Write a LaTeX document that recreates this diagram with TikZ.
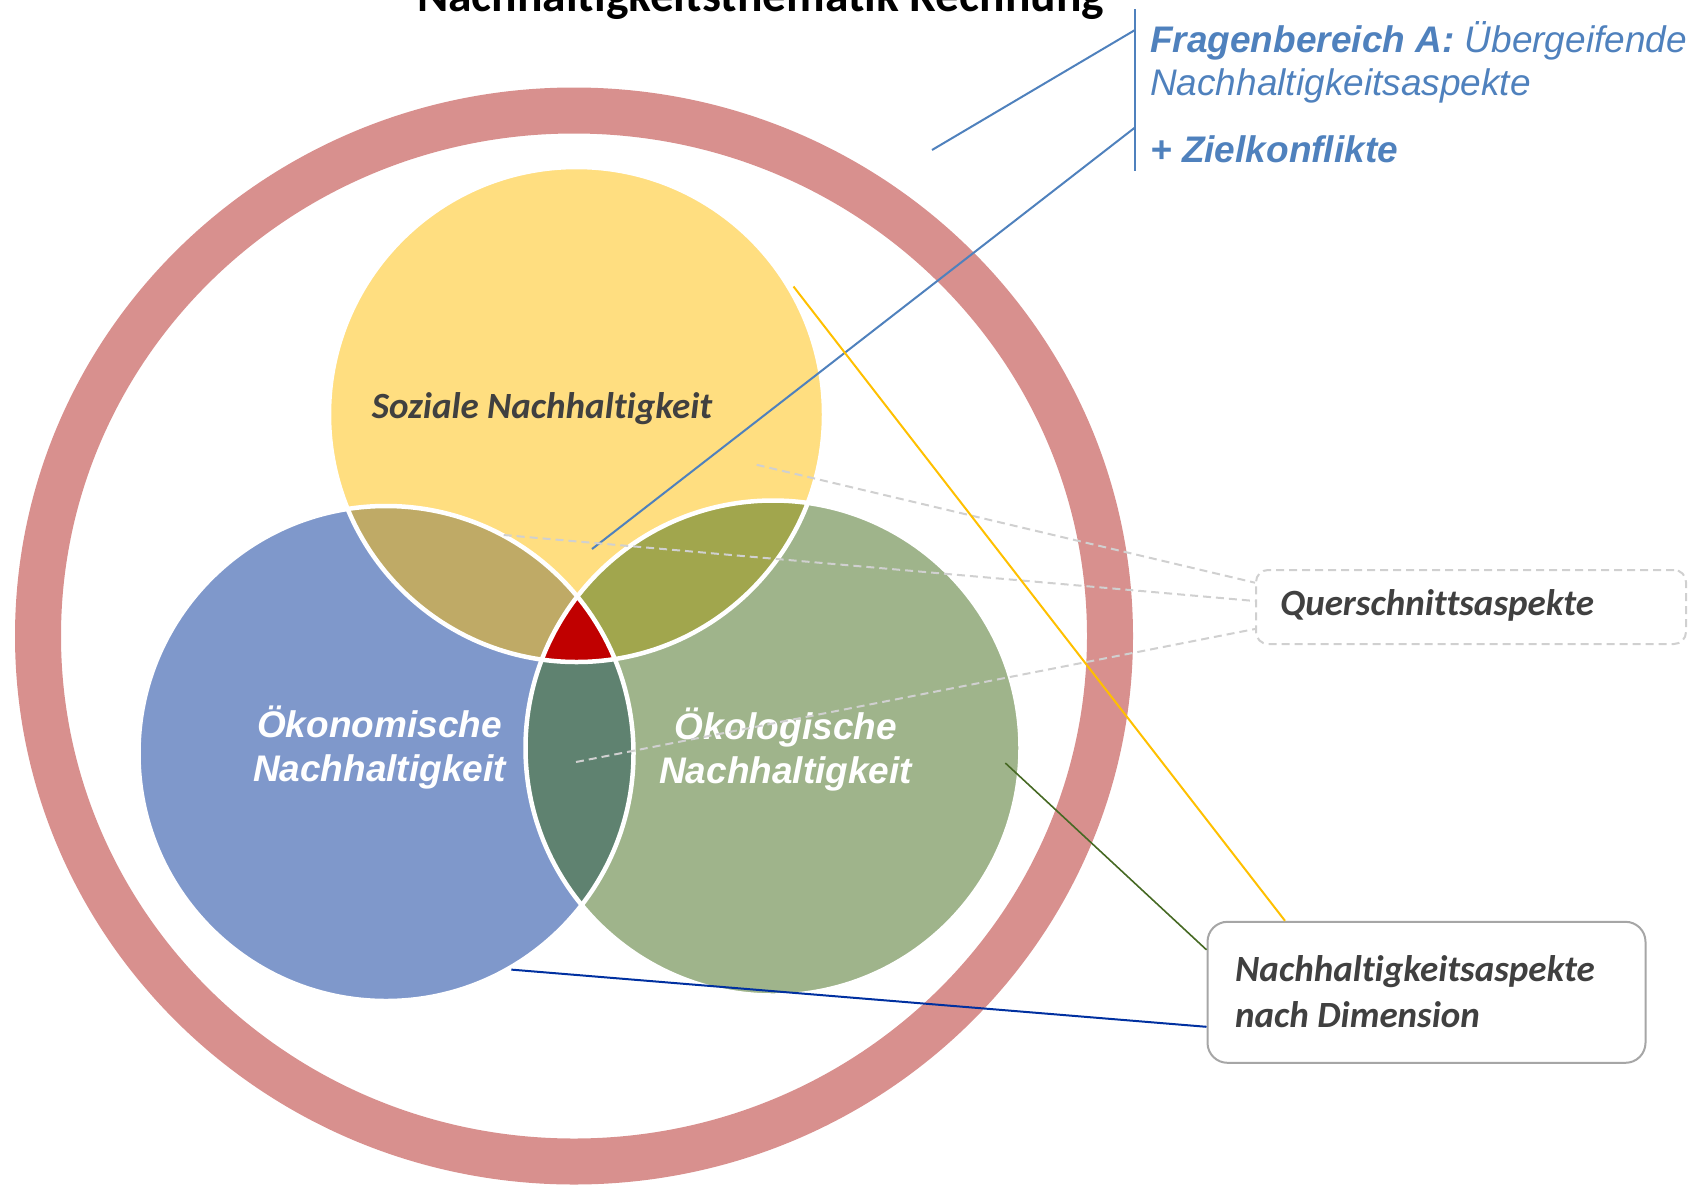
\documentclass[tikz,border=0pt]{standalone}
\usepackage{fontspec}
\setmainfont{Carlito}[Ligatures={NoCommon}]
\newfontfamily\arialf{Liberation Sans}
\definecolor{ringc}{RGB}{216,144,142}
\definecolor{yelc}{RGB}{255,222,128}
\definecolor{bluc}{RGB}{127,152,203}
\definecolor{grnc}{RGB}{159,180,139}
\definecolor{tanc}{RGB}{191,170,102}
\definecolor{olvc}{RGB}{161,166,77}
\definecolor{tealc}{RGB}{95,130,112}
\definecolor{redc}{RGB}{192,0,0}
\definecolor{bluetxt}{RGB}{79,129,189}
\definecolor{labelgray}{RGB}{64,64,64}
\definecolor{goldc}{RGB}{255,192,0}
\definecolor{dkgreen}{RGB}{70,105,35}
\definecolor{dkblue}{RGB}{0,48,160}
\definecolor{dashgray}{RGB}{208,208,208}
\definecolor{boxgray}{RGB}{166,166,166}
\begin{document}
\begin{tikzpicture}[x=1pt,y=-1pt,
  lbl/.style={inner sep=0pt, font=\bfseries\itshape\fontsize{37}{44}\selectfont, text=labelgray},
  wlbl/.style={inner sep=0pt, font=\arialf\bfseries\itshape\fontsize{37}{44}\selectfont, text=white, anchor=base},
  btxt/.style={inner sep=0pt, font=\arialf\itshape\fontsize{37}{44}\selectfont, text=bluetxt, anchor=base west},
  outline/.style={draw=white, line width=4.5pt},
  bline/.style={draw=bluetxt, line width=2pt},
  gdash/.style={draw=dashgray, line width=2pt, dash pattern=on 8pt off 5pt},
  ]
\useasboundingbox (0,0) rectangle (1695,1184);
\clip (0,0) rectangle (1695,1184);
\def\R{247.5}
% ring
\draw[ringc, line width=46pt] (574,636) ellipse [x radius=536, y radius=525.5];
% circle centres
\coordinate (Y) at (576.5,414.5);
\coordinate (B) at (386,753.5);
\coordinate (G) at (773,748);
\fill[yelc] (Y) circle [radius=\R];
\fill[bluc] (B) circle [radius=\R];
\fill[grnc] (G) circle [radius=\R];
\begin{scope}\clip (Y) circle [radius=\R]; \fill[tanc] (B) circle [radius=\R]; \end{scope}
\begin{scope}\clip (Y) circle [radius=\R]; \fill[olvc] (G) circle [radius=\R]; \end{scope}
\begin{scope}\clip (B) circle [radius=\R]; \fill[tealc] (G) circle [radius=\R]; \end{scope}
\begin{scope}\clip (Y) circle [radius=\R]; \clip (B) circle [radius=\R]; \fill[redc] (G) circle [radius=\R]; \end{scope}
\draw[outline] (Y) circle [radius=\R];
\draw[outline] (B) circle [radius=\R];
\draw[outline] (G) circle [radius=\R];
% title
\node[anchor=base, inner sep=0pt, font=\bfseries\fontsize{47.5}{57}\selectfont] (title) at (760.5,11) {Nachhaltigkeitsthematik Rechnung};
% circle labels
\node[lbl, anchor=base] (soz) at (542,418) {Soziale Nachhaltigkeit};
\node[wlbl] (oek1) at (379.5,737) {Ökonomische};
\node[wlbl] (oek2) at (379.5,781) {Nachhaltigkeit};
\node[wlbl] (eco1) at (785.7,739) {Ökologische};
\node[wlbl] (eco2) at (785.7,783) {Nachhaltigkeit};
% blue callout
\node[btxt] (fa) at (1150,52) {\bfseries Fragenbereich A:\mdseries{} Übergeifende};
\node[btxt] (fb) at (1150,95) {Nachhaltigkeitsaspekte};
\node[btxt] (fc) at (1150,162) {\bfseries + Zielkonflikte};
\coordinate (vt) at (1135,9);
\coordinate (vb) at (1135,171);
\coordinate (ca) at (1135,30);
\coordinate (cb) at (1135,127.5);
\coordinate (as) at (932,150);
\coordinate (bs) at (592,549);
\draw[bline] (vt) -- (vb);
\draw[bline] (as) -- (ca);
\draw[bline] (bs) -- (cb);
% boxes
\node[draw=dashgray, line width=2pt, dash pattern=on 8pt off 5pt, rounded corners=12pt, minimum width=430pt, minimum height=74pt, inner sep=0pt] (qs) at (1471,607) {};
\node[lbl, anchor=base west] (qstxt) at (1280,615) {Querschnittsaspekte};
\node[draw=boxgray, fill=white, line width=2pt, rounded corners=20pt, minimum width=438pt, minimum height=141pt, inner sep=0pt] (dim) at (1426.5,992.3) {};
\node[lbl, anchor=base west] (dimt1) at (1235,981.7) {Nachhaltigkeitsaspekte};
\node[lbl, anchor=base west] (dimt2) at (1235,1027.7) {nach Dimension};
% dashed connectors
\coordinate (d1) at (756.7,464.8);
\coordinate (d2) at (503.7,535);
\coordinate (d3) at (576,762);
\draw[gdash] (d1) -- ([yshift=-13.7pt]qs.north west);
\draw[gdash] (d2) -- ([yshift=-32pt]qs.north west);
\draw[gdash] (d3) -- ([yshift=-60pt]qs.north west);
% dimension connectors
\coordinate (gs) at (793.5,286.5);
\coordinate (grs) at (1005.3,763);
\coordinate (bls) at (511.3,969.6);
\draw[goldc, line width=2pt] (gs) -- ([xshift=78.5pt]dim.north west);
\draw[dkgreen, line width=1.6pt] (grs) -- ([yshift=-29pt]dim.north west);
\draw[dkblue, line width=2pt] (bls) -- ([yshift=-106pt]dim.north west);
\end{tikzpicture}
\end{document}
